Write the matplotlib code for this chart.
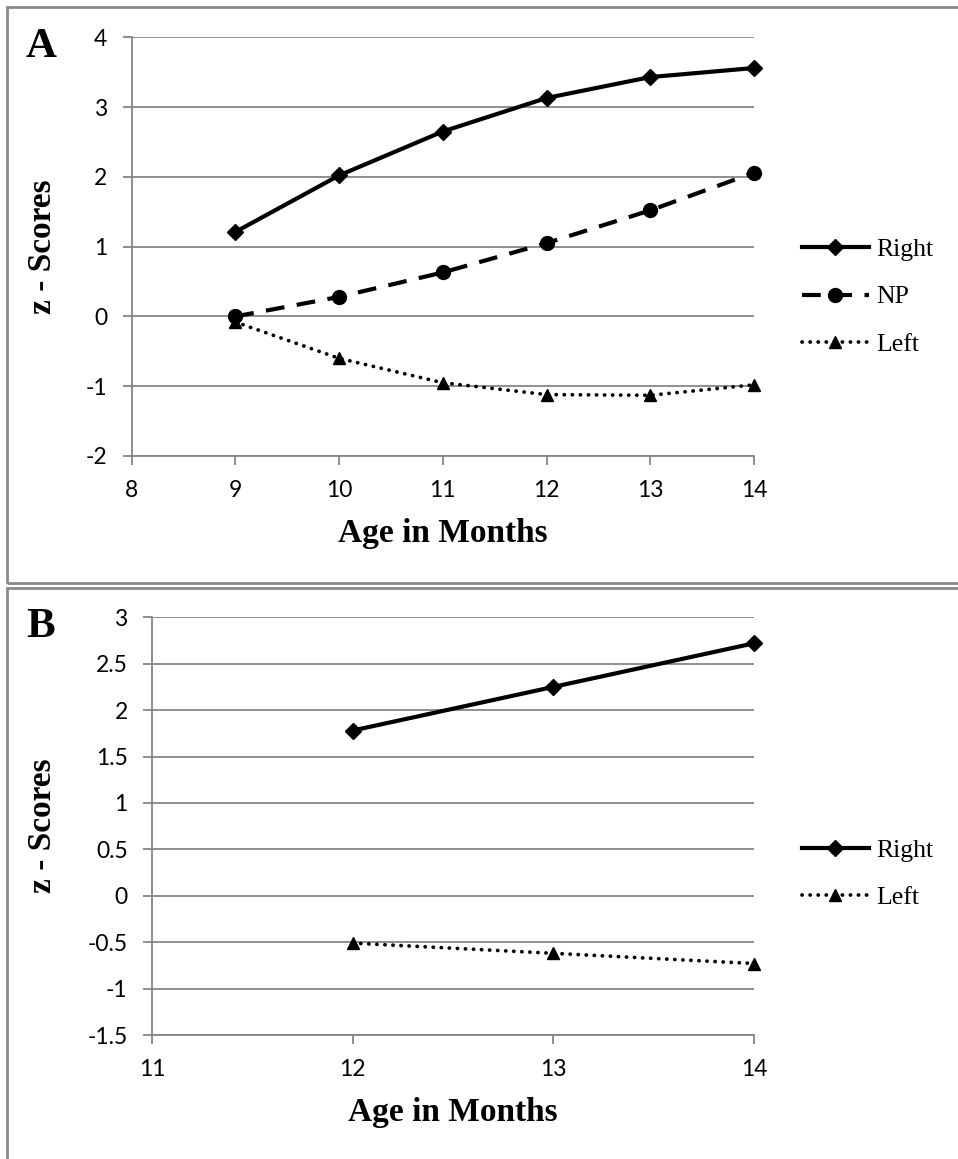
import matplotlib
matplotlib.use("Agg")
import matplotlib.pyplot as plt
from matplotlib.patches import Rectangle

plt.rcParams["axes.unicode_minus"] = False

# Panel A data: z-scores by age
ages_a = [9, 10, 11, 12, 13, 14]
right_a = [1.21, 2.02, 2.65, 3.13, 3.43, 3.56]
np_a = [0.00, 0.28, 0.63, 1.05, 1.52, 2.06]
left_a = [-0.08, -0.60, -0.95, -1.12, -1.13, -0.98]

# Panel B data
ages_b = [12, 13, 14]
right_b = [1.78, 2.25, 2.72]
left_b = [-0.51, -0.62, -0.73]

xticks_a = [8, 9, 10, 11, 12, 13, 14]
yticks_a = [-2, -1, 0, 1, 2, 3, 4]
xticks_b = [11, 12, 13, 14]
yticks_b = [-1.5, -1, -0.5, 0, 0.5, 1, 1.5, 2, 2.5, 3]
ytick_labels_b = ["-1.5", "-1", "-0.5", "0", "0.5", "1", "1.5", "2", "2.5", "3"]

W, H = 958, 1159
fig = plt.figure(figsize=(W / 100, H / 100), dpi=100)

GRAY = "#868686"
TICK_FONT = "Lato"
SERIF = "Liberation Serif"


def px_axes(x0, y0, x1, y1):
    return fig.add_axes([x0 / W, 1 - y1 / H, (x1 - x0) / W, (y1 - y0) / H])


def style_axes(ax, xticks, yticks, ylabels=None):
    ax.set_xticks(xticks)
    ax.set_yticks(yticks)
    if ylabels is not None:
        ax.set_yticklabels(ylabels)
    ax.grid(axis="y", color=GRAY, linewidth=1.3)
    ax.set_axisbelow(True)
    for s in ("top", "right"):
        ax.spines[s].set_visible(False)
    for s in ("left", "bottom"):
        ax.spines[s].set_color(GRAY)
        ax.spines[s].set_linewidth(1.3)
    ax.tick_params(axis="both", color=GRAY, width=1.3, length=6.5,
                   labelsize=16.5, direction="out")
    ax.tick_params(axis="y", pad=11)
    ax.tick_params(axis="x", pad=11)
    for lab in ax.get_xticklabels() + ax.get_yticklabels():
        lab.set_fontfamily(TICK_FONT)
    ax.set_xlabel("Age in Months", fontfamily=SERIF, fontweight="bold",
                  fontsize=24, labelpad=12)
    ax.set_ylabel("z - Scores", fontfamily=SERIF, fontweight="bold",
                  fontsize=24)


LW = 3.0
right_kw = dict(color="black", linewidth=LW, linestyle="-", marker="D",
                markersize=8, label="Right", clip_on=False)
np_kw = dict(color="black", linewidth=LW, linestyle=(0, (4.5, 3)),
             marker="o", markersize=10, label="NP", dash_capstyle="butt",
             clip_on=False)
left_kw = dict(color="black", linewidth=LW * 0.9, linestyle=(0, (0.05, 2.1)),
               marker="^", markersize=9, label="Left",
               dash_capstyle="round", clip_on=False)

legend_kw = dict(loc="center left", bbox_transform=fig.transFigure,
                 frameon=False, numpoints=1, handlelength=2.6,
                 labelspacing=0.95, handletextpad=0.3,
                 prop=dict(family=SERIF, size=18.5), borderaxespad=0,
                 borderpad=0)

# Panel A
axA = px_axes(131.5, 37.3, 754, 456)
axA.set_xlim(8, 14)
axA.set_ylim(-2, 4)
axA.plot(ages_a, right_a, **right_kw)
axA.plot(ages_a, np_a, **np_kw)
axA.plot(ages_a, left_a, **left_kw)
style_axes(axA, xticks_a, yticks_a)
axA.yaxis.set_label_coords(-(131.5 - 58) / 622.5, 0.5)
axA.legend(bbox_to_anchor=(802 / W, 1 - 297 / H), **legend_kw)

# Panel B
axB = px_axes(152, 617.3, 754, 1035)
axB.set_xlim(11, 14)
axB.set_ylim(-1.5, 3)
axB.plot(ages_b, right_b, **right_kw)
axB.plot(ages_b, left_b, **left_kw)
style_axes(axB, xticks_b, yticks_b, ytick_labels_b)
axB.yaxis.set_label_coords(-(152 - 58) / 602, 0.5)
axB.legend(bbox_to_anchor=(802 / W, 1 - 874 / H), **legend_kw)

# Panel letters
fig.text(26 / W, 1 - 57 / H, "A", fontfamily=SERIF, fontweight="bold",
         fontsize=31, ha="left", va="baseline")
fig.text(26 / W, 1 - 637 / H, "B", fontfamily=SERIF, fontweight="bold",
         fontsize=31, ha="left", va="baseline")

# Panel frames (open on the right / bottom edge of the canvas)
for (x0, y0, x1, y1) in [(7, 7, 980, 583), (7, 588, 980, 1200)]:
    fig.add_artist(Rectangle((x0 / W, 1 - y1 / H), (x1 - x0) / W,
                             (y1 - y0) / H, transform=fig.transFigure,
                             fill=False, edgecolor="#8a8a8a", linewidth=2.0,
                             clip_on=False))

fig.savefig("out.png", dpi=100, facecolor="white")
